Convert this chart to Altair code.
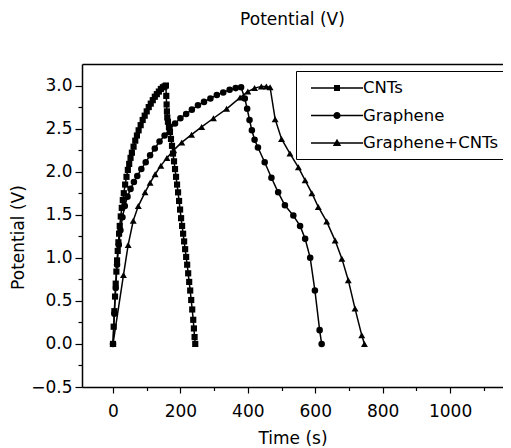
import altair as alt
import pandas as pd

FONT = "DejaVu Sans"

series_names = ["CNTs", "Graphene", "Graphene+CNTs"]

# CNTs (charge + discharge)
cnt_t = [0, 2, 4, 6, 8, 10, 12, 14, 16, 18, 20, 23, 26, 29, 32, 36, 40, 44, 48, 52,
         56, 61, 66, 71, 76, 82, 88, 94, 100, 106, 112, 118, 124, 130, 136, 142, 148, 153, 157,
         158, 159, 160, 161, 163, 166, 169, 172, 175, 178, 181, 184, 187, 190, 193, 196, 199,
         202, 205, 208, 211, 214, 217, 220, 223, 226, 229, 232, 235, 238, 240, 242, 244]
cnt_v = [0.0, 0.2, 0.38, 0.55, 0.7, 0.84, 0.97, 1.08, 1.18, 1.28, 1.37, 1.48, 1.58, 1.67, 1.75, 1.85, 1.94, 2.02, 2.09, 2.16,
         2.22, 2.29, 2.36, 2.42, 2.48, 2.54, 2.6, 2.65, 2.7, 2.75, 2.79, 2.83, 2.87, 2.9, 2.93, 2.96, 2.98, 2.99, 3.0,
         2.88, 2.78, 2.7, 2.63, 2.58, 2.52, 2.46, 2.38, 2.3, 2.21, 2.12, 2.03, 1.94, 1.85, 1.76, 1.66, 1.56,
         1.46, 1.37, 1.28, 1.19, 1.1, 1.01, 0.92, 0.82, 0.72, 0.62, 0.51, 0.4, 0.28, 0.18, 0.08, 0.0]

# Graphene
gr_t = [0, 4, 8, 12, 17, 22, 28, 35, 43, 52, 62, 72, 84, 97, 110, 124, 138, 153, 168, 184,
        200, 217, 234, 252, 270, 289, 308, 327, 346, 364, 380,
        391, 398, 405, 412, 420, 430, 450, 470, 490, 510, 535, 555, 570, 585, 599, 613, 619]
gr_v = [0.0, 0.35, 0.65, 0.92, 1.15, 1.32, 1.47, 1.6, 1.71, 1.8, 1.88, 1.95, 2.03, 2.11, 2.19, 2.27, 2.35, 2.42, 2.49, 2.56,
        2.62, 2.67, 2.72, 2.77, 2.81, 2.85, 2.89, 2.92, 2.95, 2.97, 2.98,
        2.85, 2.73, 2.6, 2.48, 2.37, 2.28, 2.11, 1.93, 1.76, 1.61, 1.49, 1.37, 1.22, 1.0, 0.62, 0.16, 0.0]

# Graphene+CNTs
gc_t = [0, 31, 45, 60, 75, 95, 110, 125, 142, 160, 180, 204, 233, 263, 298, 337, 377, 400, 420, 440, 455, 466,
        481, 500, 525, 550, 570, 590, 609, 634, 659, 679, 698, 718, 738, 746]
gc_v = [0.0, 0.8, 1.15, 1.43, 1.6, 1.76, 1.87, 1.97, 2.07, 2.16, 2.25, 2.34, 2.43, 2.52, 2.62, 2.73, 2.86, 2.93, 2.97, 2.99, 2.99, 2.98,
        2.61, 2.38, 2.21, 2.05, 1.9, 1.75, 1.59, 1.42, 1.2, 0.99, 0.74, 0.41, 0.1, 0.0]

x_major = [0, 200, 400, 600, 800, 1000]
x_minor = [100, 300, 500, 700, 900, 1100]
y_major = [-0.5, 0.0, 0.5, 1.0, 1.5, 2.0, 2.5, 3.0]
y_minor = [-0.25, 0.25, 0.75, 1.25, 1.75, 2.25, 2.75]
x_domain = [-92, 1157]
y_domain = [-0.5, 3.25]

rows = []
for name, ts, vs in zip(series_names, [cnt_t, gr_t, gc_t], [cnt_v, gr_v, gc_v]):
    for i, (t, v) in enumerate(zip(ts, vs)):
        rows.append({"series": name, "t": t, "v": v, "i": i})
df = pd.DataFrame(rows)

x_scale = alt.Scale(domain=x_domain, nice=False, zero=False)
y_scale = alt.Scale(domain=y_domain, nice=False, zero=False)

# legend glyphs: a line with the series marker on it (units of 10 px)
legend_paths = [
    "M-0.2,-0.07H5V0.07H-0.2ZM2.1,-0.3H2.7V0.3H2.1Z",
    "M-0.2,-0.07H5V0.07H-0.2ZM2.76,0A0.36,0.36,0,1,1,2.04,0A0.36,0.36,0,1,1,2.76,0Z",
    "M-0.2,-0.07H5V0.07H-0.2ZM2.4,-0.42L2.82,0.3L1.98,0.3Z",
]

lines = alt.Chart(df).mark_line(color="black", strokeWidth=1.5).encode(
    x=alt.X("t:Q", scale=x_scale, title="Time (s)",
            axis=alt.Axis(values=x_major, format="d", tickSize=6, labelPadding=10,
                          titlePadding=11, labelOverlap=False)),
    y=alt.Y("v:Q", scale=y_scale, title="Potential (V)",
            axis=alt.Axis(values=y_major, format=".1f", tickSize=7, labelPadding=3,
                          titlePadding=3, titleY=173, labelOverlap=False)),
    detail="series:N",
    order="i:Q",
)

points = alt.Chart(df).mark_point(filled=True, color="black", opacity=1).encode(
    x=alt.X("t:Q", scale=x_scale,
            axis=alt.Axis(orient="top", labels=False, ticks=False, title=None)),
    y=alt.Y("v:Q", scale=y_scale, axis=None),
    shape=alt.Shape("series:N",
                    scale=alt.Scale(domain=series_names, range=["square", "circle", "triangle-up"]),
                    legend=None),
    size=alt.Size("series:N", scale=alt.Scale(domain=series_names, range=[38, 48, 58]), legend=None),
)

minor = alt.Chart(df).mark_point(opacity=0).encode(
    x=alt.X("t:Q", scale=x_scale,
            axis=alt.Axis(orient="bottom", values=x_minor, tickSize=3.5, labels=False,
                          domain=False, title=None)),
    y=alt.Y("v:Q", scale=y_scale,
            axis=alt.Axis(orient="left", values=y_minor, tickSize=4, labels=False,
                          domain=False, title=None)),
)

legend_layer = alt.Chart(df).transform_filter("false").mark_point(
    filled=True, fill="black", opacity=1
).encode(
    shape=alt.Shape(
        "series:N",
        scale=alt.Scale(domain=series_names, range=legend_paths),
        legend=alt.Legend(
            title=None, orient="none", legendX=214, legendY=7,
            strokeColor="black", fillColor="white", padding=7,
            labelFont=FONT, labelFontSize=16.5, labelColor="black", labelOffset=40,
            labelLimit=300, rowPadding=8.5, symbolSize=400,
            symbolFillColor="black", symbolStrokeWidth=0, symbolOpacity=1,
        ),
    ),
)

chart = alt.layer(lines, points, minor, legend_layer).resolve_axis(
    x="independent", y="independent"
).resolve_scale(shape="independent").properties(
    width=421, height=323,
    autosize=alt.AutoSizeParams(type="none"),
    padding={"left": 74, "top": 56, "right": 0, "bottom": 60},
    title=alt.TitleParams(text="Potential (V)", font=FONT, fontSize=17, fontWeight="normal",
                          color="black", offset=18, baseline="bottom", anchor="middle", frame="group"),
).configure_view(strokeWidth=0).configure_axis(
    grid=False, labelFont=FONT, titleFont=FONT, labelFontSize=17, titleFontSize=17,
    titleFontWeight="normal", labelColor="black", titleColor="black",
    domainColor="black", domainWidth=1.5, tickColor="black", tickWidth=1.2,
)

chart.save("out.html", embed_options={"renderer": "svg", "actions": False})
